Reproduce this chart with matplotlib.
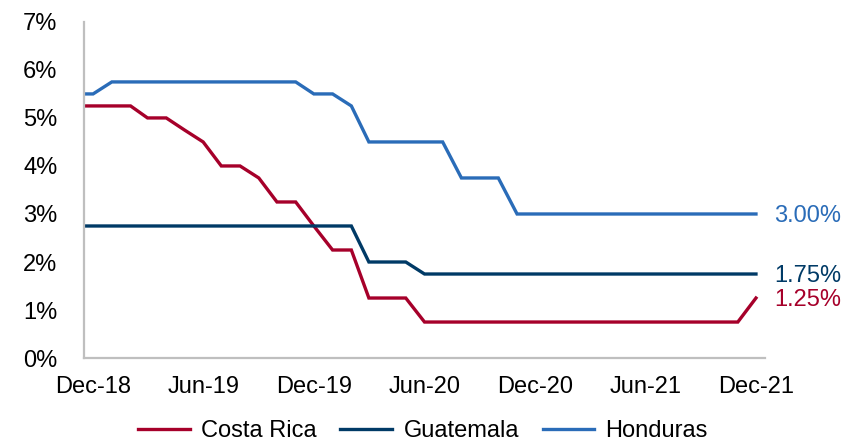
import pandas as pd
import matplotlib
matplotlib.use("Agg")
import matplotlib.pyplot as plt
import matplotlib.dates as mdates

plt.rcParams['font.family'] = ['Liberation Sans', 'DejaVu Sans']

# monthly policy rates, first point sits on the y axis (mid Nov-18)
dates = [pd.Timestamp("2018-11-16")] + list(pd.date_range("2018-12-01", "2021-12-01", freq="MS"))

costa_rica = [5.25,
              5.25, 5.25, 5.25, 5.00, 5.00, 4.75, 4.50, 4.00, 4.00, 3.75, 3.25, 3.25,
              2.75, 2.25, 2.25, 1.25, 1.25, 1.25, 0.75, 0.75, 0.75, 0.75, 0.75, 0.75,
              0.75, 0.75, 0.75, 0.75, 0.75, 0.75, 0.75, 0.75, 0.75, 0.75, 0.75, 0.75, 1.25]
guatemala = [2.75,
             2.75, 2.75, 2.75, 2.75, 2.75, 2.75, 2.75, 2.75, 2.75, 2.75, 2.75, 2.75,
             2.75, 2.75, 2.75, 2.00, 2.00, 2.00, 1.75, 1.75, 1.75, 1.75, 1.75, 1.75,
             1.75, 1.75, 1.75, 1.75, 1.75, 1.75, 1.75, 1.75, 1.75, 1.75, 1.75, 1.75, 1.75]
honduras = [5.50,
            5.50, 5.75, 5.75, 5.75, 5.75, 5.75, 5.75, 5.75, 5.75, 5.75, 5.75, 5.75,
            5.50, 5.50, 5.25, 4.50, 4.50, 4.50, 4.50, 4.50, 3.75, 3.75, 3.75, 3.00,
            3.00, 3.00, 3.00, 3.00, 3.00, 3.00, 3.00, 3.00, 3.00, 3.00, 3.00, 3.00, 3.00]

series = [("Costa Rica", costa_rica, "#A6002A"),
          ("Guatemala", guatemala, "#003A66"),
          ("Honduras", honduras, "#2A6CB8")]

fig = plt.figure(figsize=(8.46, 4.47), dpi=100)
ax = fig.add_axes([0.0993, 0.199, 0.805, 0.752])

for name, vals, col in series:
    ax.plot(dates, vals, color=col, lw=2.4, label=name, solid_joinstyle="miter")
    ax.annotate(f"{vals[-1]:.2f}%", (dates[-1], vals[-1]), xytext=(13, -1.5),
                textcoords="offset points", color=col, fontsize=17, va="center", ha="left")

ax.set_ylim(0, 7)
ax.set_yticks(range(0, 8))
ax.set_yticklabels([f"{i}%" for i in range(0, 8)])
ax.set_xlim(pd.Timestamp("2018-11-16"), pd.Timestamp("2021-12-16"))
ax.set_xticks(pd.date_range("2018-12-01", "2021-12-01", freq="6MS"))
ax.xaxis.set_major_formatter(mdates.DateFormatter("%b-%y"))

for s in ["top", "right"]:
    ax.spines[s].set_visible(False)
for s in ["left", "bottom"]:
    ax.spines[s].set_color("#BFBFBF")
    ax.spines[s].set_linewidth(1.6)
ax.tick_params(axis="y", length=0, pad=19, labelsize=17)
ax.tick_params(axis="x", length=0, pad=13, labelsize=17)

fig.legend(loc="center", bbox_to_anchor=(0.5, 1 - 431 / 447), ncol=3, frameon=False,
           fontsize=17, handlelength=2.2, handletextpad=0.47, columnspacing=1.0)

fig.savefig("out.png", dpi=100)
